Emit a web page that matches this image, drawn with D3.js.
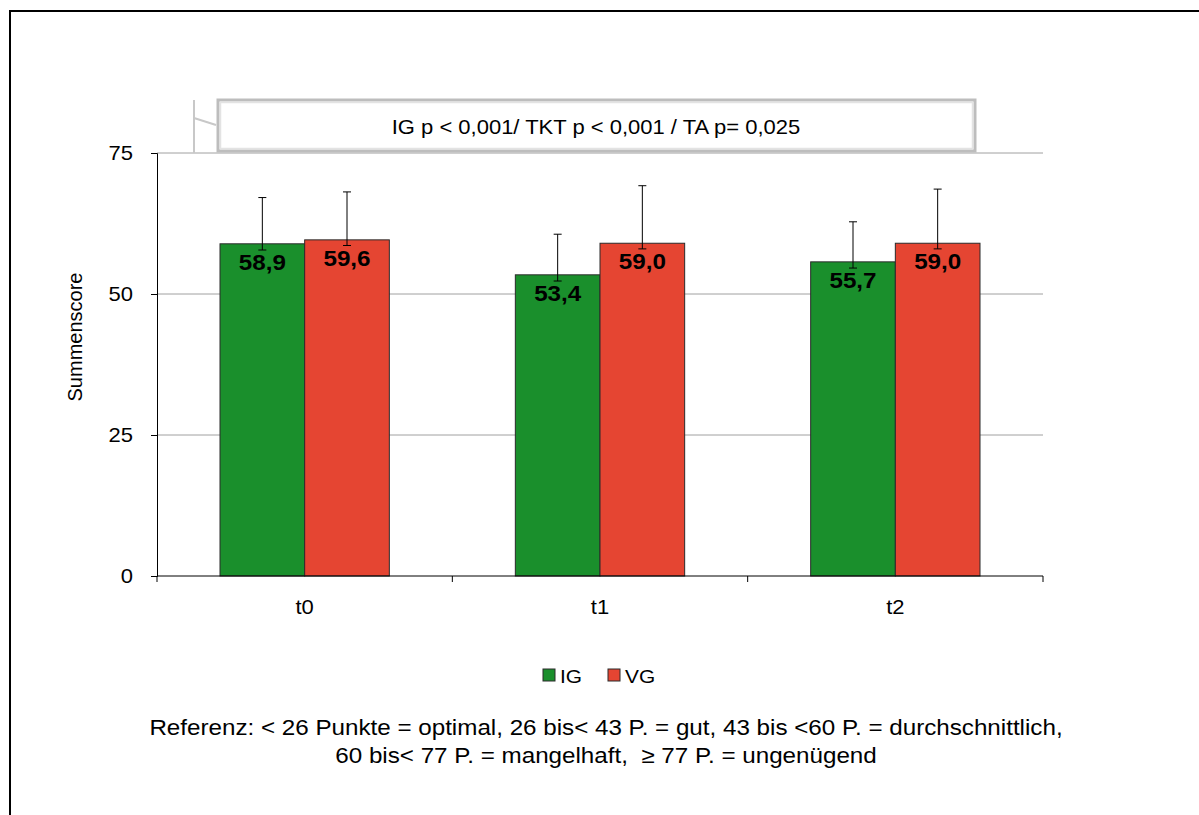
<!DOCTYPE html>
<html>
<head>
<meta charset="utf-8">
<script src="https://cdn.jsdelivr.net/npm/d3@7"></script>
<style>
  html, body { margin: 0; padding: 0; background: #fff; }
  svg { display: block; font-family: "Liberation Sans", Arial, sans-serif; }
  svg text { white-space: pre; }
</style>
</head>
<body>
<svg id="chart" width="1199" height="815"></svg>
<script>
// Summenscore by measurement time, intervention (IG) vs. comparison group (VG)
const categories = ["t0", "t1", "t2"];
const seriesNames = ["IG", "VG"];
const igValues = [58.9, 53.4, 55.7];
const vgValues = [59.6, 59.0, 59.0];
// error bar ends (upper / lower) per group
const igUpper = [67.1, 60.6, 62.8];
const igLower = [57.8, 52.3, 54.6];
const vgUpper = [68.1, 69.2, 68.6];
const vgLower = [58.6, 58.0, 58.0];
const yTicks = [0, 25, 50, 75];
const colors = { IG: "#1a8f2c", VG: "#e54532" };
const significanceText = "IG p < 0,001/ TKT p < 0,001 / TA p= 0,025";
const yTitle = "Summenscore";
const footnoteLines = [
  "Referenz: < 26 Punkte = optimal, 26 bis< 43 P. = gut, 43 bis <60 P. = durchschnittlich,",
  "60 bis< 77 P. = mangelhaft,  \u2265 77 P. = ungenügend"
];

// horizontal text stretch used for all upright labels
const SX = 1.1;
function placeText(sel, fx, fy) {
  sel.attr("x", 0).attr("y", 0)
    .attr("transform", (d, i) => `translate(${fx(d, i)},${fy(d, i)}) scale(${SX},1)`);
  return sel;
}

const svg = d3.select("#chart");

// outer frame (top and left edges)
svg.append("path")
  .attr("d", "M10,815 L10,11 L1199,11")
  .attr("fill", "none").attr("stroke", "#000").attr("stroke-width", 2);

const plot = { left: 157, right: 1043, top: 153, bottom: 576 };

const x0 = d3.scaleBand().domain(categories)
  .range([plot.left, plot.right]).paddingInner(0).paddingOuter(0);
const groupPad = 63;
const x1 = d3.scaleBand().domain(seriesNames)
  .range([groupPad, x0.bandwidth() - groupPad]).padding(0);
const y = d3.scaleLinear().domain([0, 75]).range([plot.bottom, plot.top]);

// gridlines
svg.append("g").selectAll("line").data(yTicks.filter(d => d > 0)).join("line")
  .attr("x1", plot.left).attr("x2", plot.right)
  .attr("y1", d => y(d)).attr("y2", d => y(d))
  .attr("stroke", "#a0a0a0").attr("stroke-width", 1);

// significance box with bracket
const box = svg.append("g");
box.append("line").attr("x1", 194).attr("x2", 194).attr("y1", 100).attr("y2", y(75))
  .attr("stroke", "#c8c8c8").attr("stroke-width", 2);
box.append("line").attr("x1", 194).attr("x2", 216).attr("y1", 118).attr("y2", 125)
  .attr("stroke", "#c8c8c8").attr("stroke-width", 2);
box.append("rect").attr("x", 218).attr("y", 100).attr("width", 757).attr("height", 51)
  .attr("fill", "#fff").attr("stroke", "#bdbdbd").attr("stroke-width", 3);
box.append("rect").attr("x", 220.5).attr("y", 102.5).attr("width", 752).attr("height", 46)
  .attr("fill", "none").attr("stroke", "#e3e3e3").attr("stroke-width", 1.5);
placeText(box.append("text").datum(significanceText), () => 596, () => 134)
  .attr("text-anchor", "middle").attr("font-size", 20).attr("fill", "#000")
  .text(d => d);

// bars
const rows = categories.map((c, i) => ({
  cat: c,
  items: [
    { key: "IG", value: igValues[i], hi: igUpper[i], lo: igLower[i] },
    { key: "VG", value: vgValues[i], hi: vgUpper[i], lo: vgLower[i] }
  ]
}));

const groups = svg.append("g").selectAll("g").data(rows).join("g")
  .attr("transform", d => `translate(${x0(d.cat)},0)`);

groups.selectAll("rect").data(d => d.items).join("rect")
  .attr("x", d => x1(d.key)).attr("width", x1.bandwidth())
  .attr("y", d => y(d.value)).attr("height", d => y(0) - y(d.value))
  .attr("fill", d => colors[d.key])
  .attr("stroke", "#2b2b2b").attr("stroke-width", 1);

const cx = d => x1(d.key) + x1.bandwidth() / 2;

// value labels
placeText(groups.selectAll("text.val").data(d => d.items).join("text").attr("class", "val"),
  d => cx(d), d => y(d.value) + 26)
  .attr("text-anchor", "middle").attr("font-size", 22).attr("font-weight", "bold")
  .attr("fill", "#000")
  .text(d => d.value.toFixed(1).replace(".", ","));

// error bars
const eb = groups.selectAll("g.err").data(d => d.items).join("g").attr("class", "err");
eb.append("line").attr("x1", cx).attr("x2", cx)
  .attr("y1", d => y(d.hi)).attr("y2", d => y(d.lo))
  .attr("stroke", "#000").attr("stroke-width", 1);
eb.append("line").attr("x1", d => cx(d) - 4).attr("x2", d => cx(d) + 4)
  .attr("y1", d => y(d.hi)).attr("y2", d => y(d.hi))
  .attr("stroke", "#000").attr("stroke-width", 1);
eb.append("line").attr("x1", d => cx(d) - 4).attr("x2", d => cx(d) + 4)
  .attr("y1", d => y(d.lo)).attr("y2", d => y(d.lo))
  .attr("stroke", "#000").attr("stroke-width", 1);

// y axis
const yAxis = svg.append("g").attr("transform", `translate(${plot.left},0)`)
  .call(d3.axisLeft(y).tickValues(yTicks).tickSize(6).tickFormat(""));
yAxis.select(".domain").attr("stroke", "#000");
yAxis.selectAll("line").attr("stroke", "#000");
placeText(svg.append("g").selectAll("text").data(yTicks).join("text"),
  () => 133, d => y(d) + 7)
  .attr("text-anchor", "end").attr("font-size", 20).attr("fill", "#000")
  .text(d => d);

// x axis with ticks at category boundaries
const xAxisG = svg.append("g").attr("transform", `translate(0,${plot.bottom})`);
xAxisG.append("line").attr("x1", plot.left).attr("x2", plot.right)
  .attr("y1", 0).attr("y2", 0).attr("stroke", "#000");
const bounds = categories.map(c => x0(c)).concat([plot.right]);
xAxisG.selectAll("line.tick").data(bounds).join("line").attr("class", "tick")
  .attr("x1", d => d).attr("x2", d => d).attr("y1", 0).attr("y2", 6)
  .attr("stroke", "#000");
placeText(xAxisG.selectAll("text").data(categories).join("text"),
  d => x0(d) + x0.bandwidth() / 2, () => 38)
  .attr("text-anchor", "middle").attr("font-size", 20).attr("fill", "#000")
  .text(d => d);

// y axis title
svg.append("text")
  .attr("transform", "translate(82,337) rotate(-90)")
  .attr("text-anchor", "middle").attr("font-size", 20).attr("fill", "#000")
  .text(yTitle);

// legend
const legendItems = [{ key: "IG", x: 543 }, { key: "VG", x: 608 }];
const lg = svg.append("g").selectAll("g").data(legendItems).join("g")
  .attr("transform", d => `translate(${d.x},669)`);
lg.append("rect").attr("width", 12).attr("height", 12)
  .attr("fill", d => colors[d.key]).attr("stroke", "#2b2b2b").attr("stroke-width", 1);
placeText(lg.append("text"), () => 17, () => 14)
  .attr("font-size", 19).attr("fill", "#000")
  .text(d => d.key);

// footnote
placeText(svg.append("g").selectAll("text").data(footnoteLines).join("text"),
  () => 606, (d, i) => 735 + i * 28)
  .attr("text-anchor", "middle").attr("font-size", 22).attr("fill", "#000")
  .text(d => d);
</script>
</body>
</html>
